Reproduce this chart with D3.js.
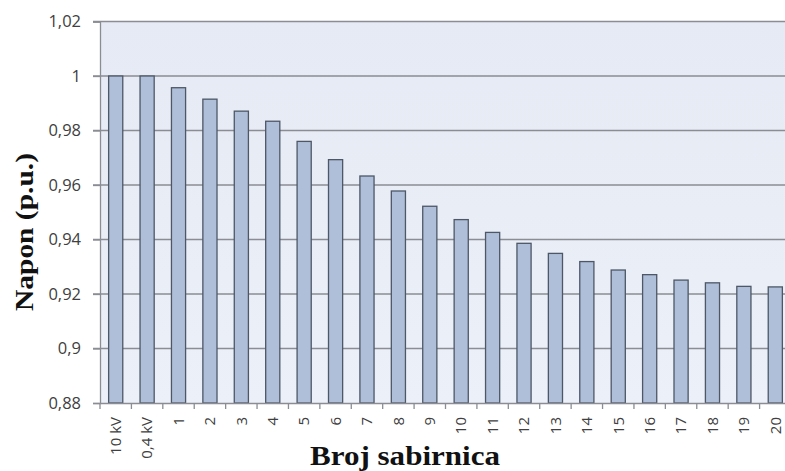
<!DOCTYPE html>
<html><head><meta charset="utf-8">
<script src="https://cdn.jsdelivr.net/npm/d3@7"></script>
<style>body{margin:0;background:#fff}svg{display:block}</style>
</head><body><svg id="c" width="785" height="471"></svg>
<script>
const categories = ["10 kV","0,4 kV","1","2","3","4","5","6","7","8","9","10","11","12","13","14","15","16","17","18","19","20"];
const voltages = [1.0,1.0,0.9957,0.9915,0.9871,0.9834,0.9760,0.9693,0.9633,0.9578,0.9522,0.9473,0.9426,0.9386,0.9349,0.9319,0.9288,0.9271,0.9251,0.9241,0.9228,0.9226];
const yTicks = [0.88,0.90,0.92,0.94,0.96,0.98,1.00,1.02];
const yTickLabels = ["0,88","0,9","0,92","0,94","0,96","0,98","1","1,02"];

const svg = d3.select("#c");
const L = 100, R = 791, T = 21.5, B = 403;
const x = d3.scaleBand().domain(categories).range([L, R]).paddingInner(0.55).paddingOuter(0.275);
const xb = d3.scaleBand().domain(categories).range([L, R]);
const y = d3.scaleLinear().domain([0.88, 1.02]).range([B, T]);

const defs = svg.append("defs");
const g = defs.append("linearGradient").attr("id","bg").attr("x1",0).attr("y1",0).attr("x2",0).attr("y2",1);
g.append("stop").attr("offset","0%").attr("stop-color","#e6eaf4");
g.append("stop").attr("offset","100%").attr("stop-color","#ecf0f8");

svg.append("rect").attr("x",L).attr("y",T).attr("width",R-L).attr("height",B-T).attr("fill","url(#bg)");

// gridlines
svg.append("g").selectAll("line").data(yTicks.slice(1)).join("line")
  .attr("x1",L-7).attr("x2",R).attr("y1",d=>y(d)).attr("y2",d=>y(d))
  .attr("stroke","#8a8d93").attr("stroke-width",1.3);

// bars
svg.append("g").selectAll("rect").data(voltages).join("rect")
  .attr("x",(d,i)=>x(categories[i])).attr("width",x.bandwidth())
  .attr("y",d=>y(d)).attr("height",d=>B-y(d))
  .attr("fill","#b0bfd9").attr("stroke","#4d5766").attr("stroke-width",1.3);

// y axis
const ya = d3.axisLeft(y).tickValues(yTicks).tickFormat((d,i)=>yTickLabels[i]).tickSize(7).tickPadding(12);
const yg = svg.append("g").attr("transform",`translate(${L},0)`).call(ya);
yg.select(".domain").attr("stroke","#8a8d93").attr("stroke-width",1.3);
yg.selectAll(".tick line").attr("stroke","#8a8d93").attr("stroke-width",1.3);
yg.selectAll("text").attr("font-family","'Open Sans', sans-serif").attr("font-size",16.5).attr("fill","#404040");

// x axis
const xa = d3.axisBottom(xb).tickSize(0).tickPadding(0);
const xg = svg.append("g").attr("transform",`translate(0,${B})`).call(xa);
xg.select(".domain").attr("stroke","#8a8d93").attr("stroke-width",1.3);
xg.selectAll(".tick text")
  .attr("transform","rotate(-90)").attr("text-anchor","end")
  .attr("x",-14).attr("y",0).attr("dy","0.35em")
  .attr("font-family","'Open Sans', sans-serif").attr("font-size",15).attr("fill","#404040");
// tick marks at band boundaries
xg.append("g").selectAll("line").data(categories.map((c,i)=>i)).join("line")
  .attr("x1",i=>L+i*xb.bandwidth()).attr("x2",i=>L+i*xb.bandwidth())
  .attr("y1",0).attr("y2",6).attr("stroke","#8a8d93").attr("stroke-width",1.3);

// titles
svg.append("text").attr("transform","translate(33,232) rotate(-90)").attr("text-anchor","middle")
  .attr("font-family","'Liberation Serif','Times New Roman',serif").attr("font-weight","bold")
  .attr("font-size",26).attr("textLength",158).attr("lengthAdjust","spacingAndGlyphs")
  .attr("fill","#111").text("Napon (p.u.)");
svg.append("text").attr("x",405).attr("y",465).attr("text-anchor","middle")
  .attr("font-family","'Liberation Serif','Times New Roman',serif").attr("font-weight","bold")
  .attr("font-size",27).attr("textLength",190).attr("lengthAdjust","spacingAndGlyphs")
  .attr("fill","#111").text("Broj sabirnica");
</script></body></html>
